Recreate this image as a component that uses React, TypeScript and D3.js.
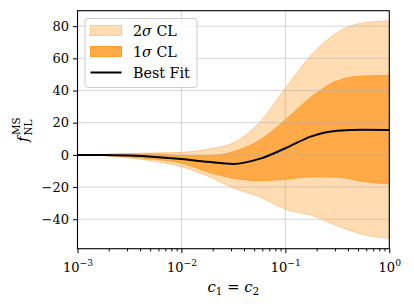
import React, { useEffect, useRef } from 'react';
import * as d3 from 'd3';

// log10(c1 = c2) sample points
const logC = [-3, -2.75, -2.5, -2.25, -2, -1.75, -1.5, -1.25, -1, -0.75, -0.5, -0.25, 0];
const bestFit = [0, 0, -0.4, -1.3, -2.6, -4.3, -5.6, -2.5, 4.1, 11.5, 15.0, 15.6, 15.5];
const sigma1Upper = [0, 0.2, 0.5, 0.5, -0.5, -0.5, 2, 9, 21.7, 36, 46, 49, 49.3];
const sigma1Lower = [0, -0.3, -1.3, -2.8, -5, -10.5, -14.5, -16, -15.1, -13.6, -13.8, -16.5, -18];
const sigma2Upper = [0, 0.3, 0.8, 1.2, 1.5, 3.5, 7.5, 20, 41.4, 62, 76, 82, 83.2];
const sigma2Lower = [0, -0.5, -1.8, -4, -7.3, -13, -20.5, -26, -33.7, -37.5, -44, -49.5, -51.8];

const yTicks = [-40, -20, 0, 20, 40, 60, 80];
const xTicks = [1e-3, 1e-2, 1e-1, 1];
const xTickExps = ['\u22123', '\u22122', '\u22121', '0'];
const legendLabels = ['2\u03c3 CL', '1\u03c3 CL', 'Best Fit'];

const width = 414;
const height = 307;
const margin = { top: 10.7, right: 24.7, bottom: 58.3, left: 77.5 };
const serif = '"DejaVu Serif", serif';

export default function App() {
  const ref = useRef<SVGSVGElement>(null);

  useEffect(() => {
    const svg = d3.select(ref.current);
    svg.selectAll('*').remove();

    const x = d3.scaleLog().domain([1e-3, 1]).range([margin.left, width - margin.right]);
    const y = d3.scaleLinear().domain([-58.3, 89.6]).range([height - margin.bottom, margin.top]);

    const rows = logC.map((l, i) => ({
      c: Math.pow(10, l),
      bf: bestFit[i],
      u1: sigma1Upper[i],
      l1: sigma1Lower[i],
      u2: sigma2Upper[i],
      l2: sigma2Lower[i],
    }));

    const band = (lo: (d: any) => number, hi: (d: any) => number) =>
      d3.area<any>()
        .x(d => x(d.c))
        .y0(d => y(lo(d)))
        .y1(d => y(hi(d)))
        .curve(d3.curveMonotoneX);

    svg.append('path')
      .attr('d', band(d => d.l2, d => d.u2)(rows))
      .attr('fill', '#ffdcb2')
      .attr('stroke', '#ffc88c')
      .attr('stroke-width', 1);

    svg.append('path')
      .attr('d', band(d => d.l1, d => d.u1)(rows))
      .attr('fill', '#ffaa47')
      .attr('stroke', '#ff9f30')
      .attr('stroke-width', 1);

    // grid
    const grid = svg.append('g').attr('stroke', '#b0b0b0').attr('stroke-opacity', 0.5).attr('stroke-width', 1);
    yTicks.forEach(t => {
      grid.append('line')
        .attr('x1', margin.left).attr('x2', width - margin.right)
        .attr('y1', y(t)).attr('y2', y(t));
    });
    xTicks.slice(1, -1).forEach(t => {
      grid.append('line')
        .attr('x1', x(t)).attr('x2', x(t))
        .attr('y1', margin.top).attr('y2', height - margin.bottom);
    });

    // best fit
    svg.append('path')
      .attr('d', d3.line<any>().x(d => x(d.c)).y(d => y(d.bf)).curve(d3.curveMonotoneX)(rows))
      .attr('fill', 'none')
      .attr('stroke', '#000')
      .attr('stroke-width', 2);

    // axes
    const yAxis = svg.append('g')
      .attr('transform', `translate(${margin.left},0)`)
      .call(d3.axisLeft(y).tickValues(yTicks).tickSize(4.5).tickPadding(4));
    yAxis.select('.domain').remove();
    yAxis.selectAll('text').attr('font-family', serif).attr('font-size', 13).attr('fill', '#000');

    const minor: number[] = [];
    for (let e = -3; e < 0; e++) for (let k = 2; k <= 9; k++) minor.push(k * Math.pow(10, e));
    const xMinor = svg.append('g')
      .attr('transform', `translate(0,${height - margin.bottom})`)
      .call(d3.axisBottom(x).tickValues(minor).tickSize(2.6).tickFormat(() => ''));
    xMinor.select('.domain').remove();

    const xAxis = svg.append('g')
      .attr('transform', `translate(0,${height - margin.bottom})`)
      .call(d3.axisBottom(x).tickValues(xTicks).tickSize(4.5).tickFormat(() => ''));
    xAxis.select('.domain').remove();
    xAxis.selectAll('.tick').each(function (_d, i) {
      const t = d3.select(this).append('text')
        .attr('y', 23)
        .attr('fill', '#000')
        .attr('font-family', serif)
        .attr('font-size', 13)
        .attr('text-anchor', 'middle');
      t.append('tspan').text('10');
      t.append('tspan').attr('dy', -6).attr('font-size', 9.2).text(xTickExps[i]);
    });

    // spines
    svg.append('rect')
      .attr('x', margin.left).attr('y', margin.top)
      .attr('width', width - margin.left - margin.right)
      .attr('height', height - margin.top - margin.bottom)
      .attr('fill', 'none').attr('stroke', '#000').attr('stroke-width', 1.1);

    // axis labels
    const xl = svg.append('text')
      .attr('x', (margin.left + width - margin.right) / 2)
      .attr('y', 292)
      .attr('text-anchor', 'middle')
      .attr('font-family', serif)
      .attr('font-size', 14.8);
    xl.append('tspan').attr('font-style', 'italic').text('c');
    xl.append('tspan').attr('font-size', 10.4).attr('dy', 3).text('1');
    xl.append('tspan').attr('dy', -3).text(' = ');
    xl.append('tspan').attr('font-style', 'italic').text('c');
    xl.append('tspan').attr('font-size', 10.4).attr('dy', 3).text('2');

    const yl = svg.append('text')
      .attr('transform', `translate(28,${(margin.top + height - margin.bottom) / 2}) rotate(-90)`)
      .attr('text-anchor', 'middle')
      .attr('font-family', serif)
      .attr('font-size', 14.8);
    yl.append('tspan').attr('font-style', 'italic').text('f');
    yl.append('tspan').attr('font-size', 10.4).attr('dy', 3.8).attr('dx', 1).text('NL');
    yl.append('tspan').attr('font-size', 10.4).attr('dy', -11.5).attr('dx', -15.5).text('MS');

    // legend
    const lg = svg.append('g').attr('transform', 'translate(85,18.5)');
    lg.append('rect')
      .attr('width', 112).attr('height', 69).attr('rx', 3)
      .attr('fill', '#fff').attr('fill-opacity', 0.8)
      .attr('stroke', '#cccccc').attr('stroke-width', 1);
    const swatches = [
      { fill: '#ffdcb2', stroke: '#ffc88c' },
      { fill: '#ffaa47', stroke: '#ff9f30' },
    ];
    legendLabels.forEach((lab, i) => {
      const cy = 12 + i * 21;
      if (i < 2) {
        lg.append('rect')
          .attr('x', 5.5).attr('y', cy - 5).attr('width', 31).attr('height', 10)
          .attr('fill', swatches[i].fill).attr('stroke', swatches[i].stroke);
      } else {
        lg.append('line')
          .attr('x1', 5.5).attr('x2', 36.5).attr('y1', cy).attr('y2', cy)
          .attr('stroke', '#000').attr('stroke-width', 2);
      }
      const t = lg.append('text')
        .attr('x', 48).attr('y', cy + 5)
        .attr('font-family', serif).attr('font-size', 14.3);
      if (i < 2) {
        t.append('tspan').text(lab[0]);
        t.append('tspan').attr('font-style', 'italic').text(lab[1]);
        t.append('tspan').text(lab.slice(2));
      } else {
        t.text(lab);
      }
    });
  }, []);

  return (
    <svg ref={ref} width={width} height={height}
      style={{ position: 'absolute', left: 0, top: 0, display: 'block', background: '#fff' }} />
  );
}
